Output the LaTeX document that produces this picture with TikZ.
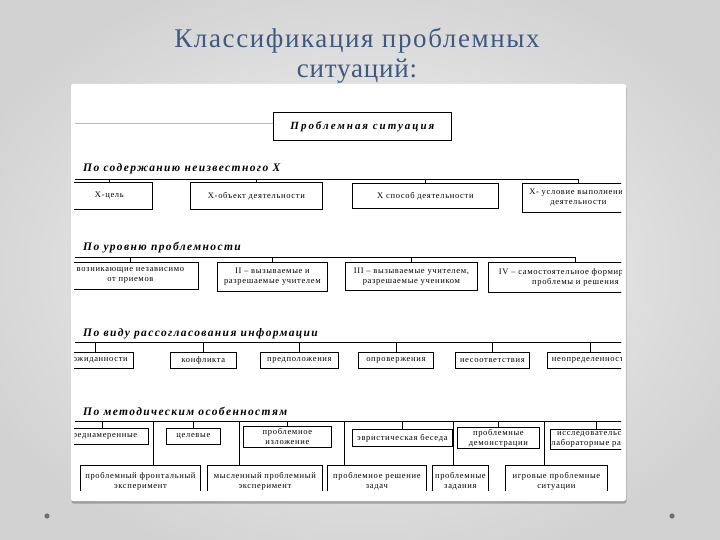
\documentclass[tikz,border=0pt]{standalone}
\usepackage{fontspec}
\setmainfont{Liberation Serif}
\usetikzlibrary{calc}
\definecolor{titleblue}{HTML}{3E5A80}
\definecolor{bgout}{HTML}{D2D2D2}
\definecolor{bgin}{HTML}{F6F6F6}
\definecolor{dotgray}{HTML}{707070}
\tikzset{
  bx/.style={draw=black, line width=0.8pt, align=center, inner sep=1pt, anchor=north west,
    font=\fontsize{8.5}{10}\selectfont\addfontfeature{LetterSpace=8}},
  hd/.style={anchor=base west, inner sep=0pt,
    font=\fontsize{11.5}{12}\selectfont\bfseries\itshape\addfontfeature{LetterSpace=12}},
  ln/.style={line width=0.8pt, draw=black},
  ttl/.style={anchor=base, inner sep=0pt, text=titleblue, font=\fontsize{27}{30}\selectfont\addfontfeature{LetterSpace=6}},
}
\newcommand\bxat[6]{\node[bx, minimum width={#4pt-#2pt}, minimum height={#5pt-#3pt}] (#1) at (#2,#3) {#6};}
\begin{document}
\begin{tikzpicture}[x=1pt,y=-1pt]
\useasboundingbox (0,0) rectangle (720,540);
\shade[inner color=bgin, outer color=bgout] (-60,-40) rectangle (780,580);
% title
\node[ttl] (t1) at (357,48) {Классификация проблемных};
\node[ttl, font=\fontsize{27}{30}\selectfont\addfontfeature{LetterSpace=3}] (t2) at (357,78) {ситуаций:};
% panel
\fill[black, opacity=0.25, rounded corners=2pt] (71.5,86) rectangle (626.5,503.5);
\fill[white, rounded corners=2pt] (71,84) rectangle (626,501);
% dots
\fill[dotgray] (47,516) circle (2.6);
\fill[dotgray] (672,516) circle (2.6);

\begin{scope}
\clip (74,96) rectangle (621,490);
% top box
\node[draw=black, line width=0.8pt, anchor=north west, minimum width=178pt, minimum height=28pt, inner sep=1pt,
  font=\fontsize{11}{12}\selectfont\bfseries\itshape\addfontfeature{LetterSpace=18}] (top) at (273,112) {Проблемная ситуация};
\coordinate (tl) at (75,123);
\draw[line width=0.6pt, draw=gray!55] (tl) -- (tl -| top.west);

% ---------- section 1
\node[hd] (h1) at (83,172) {По содержанию неизвестного X};
\bxat{a1}{66}{182}{152}{209}{X-цель}
\bxat{a2}{190}{182}{322}{209}{X-объект деятельности}
\bxat{a3}{352}{183}{498}{208}{X способ деятельности}
\bxat{a4}{522}{183}{634}{212}{X- условие выполнения\\деятельности}
\coordinate (b1) at (75,179);
\draw[ln] (b1) -- (b1 -| a4.north) -- (a4.north);
\foreach \n in {a1,a2,a3} \draw[ln] (b1 -| \n.north) -- (\n.north);

% ---------- section 2
\node[hd] (h2) at (83,251) {По уровню проблемности};
\bxat{r1}{62}{262}{198}{289}{возникающие независимо\\от приемов}
\bxat{r2}{217}{262}{327}{291}{II – вызываемые и\\разрешаемые учителем}
\bxat{r3}{345}{262}{477}{290}{III – вызываемые учителем,\\разрешаемые учеником}
\bxat{r4}{488}{262}{662}{292}{IV – самостоятельное формирование\\проблемы и решения}
\coordinate (b2) at (75,257);
\draw[ln] (b2) -- (b2 -| r4.north) -- (r4.north);
\foreach \n in {r1,r2,r3} \draw[ln] (b2 -| \n.north) -- (\n.north);

% ---------- section 3
\node[hd] (h3) at (83,336) {По виду рассогласования информации};
\bxat{s1}{57}{352}{133}{368}{неожиданности}
\bxat{s2}{170}{352}{236}{368}{конфликта}
\bxat{s3}{260}{352}{338}{368}{предположения}
\bxat{s4}{358}{352}{433}{368}{опровержения}
\bxat{s5}{455}{352}{529}{368}{несоответствия}
\bxat{s6}{547}{352}{633}{368}{неопределенности}
\coordinate (b3s) at (75,342);
\coordinate (b3e) at (625,342);
\draw[ln] (b3s) -- (b3e);
\foreach \n in {s1,s2,s3,s4,s5,s6} \draw[ln] (b3s -| \n.north) -- (\n.north);

% ---------- section 4
\node[hd] (h4) at (83,415) {По методическим особенностям};
\bxat{u1}{56}{428}{148}{444}{преднамеренные}
\bxat{u2}{166}{428}{220}{444}{целевые}
\bxat{u3}{243}{426}{331}{447}{проблемное\\изложение}
\bxat{u4}{352}{429}{452}{446}{эвристическая беседа}
\bxat{u5}{457}{427}{539}{448}{проблемные\\демонстрации}
\bxat{u6}{550}{429}{640}{449}{исследовательские\\лабораторные работы}
\bxat{c1}{80}{465}{200}{497}{проблемный фронтальный\\эксперимент}
\bxat{c2}{207}{465}{322}{497}{мысленный проблемный\\эксперимент}
\bxat{c3}{327}{465}{426}{497}{проблемное решение\\задач}
\bxat{c4}{432}{465}{488}{497}{проблемные\\задания}
\bxat{c5}{505}{465}{607}{497}{игровые проблемные\\ситуации}
\coordinate (b4s) at (75,421);
\coordinate (b4e) at (625,421);
\draw[ln] (b4s) -- (b4e);
\foreach \n in {u1,u2,u3,u4,u5,u6} \draw[ln] (b4s -| \n.north) -- (\n.north);
\coordinate (v1) at (153,421);
\coordinate (v2) at (239,421);
\coordinate (v3) at (344,421);
\coordinate (v4) at (453,421);
\coordinate (v5) at (544,421);
\draw[ln] (v1) -- (v1 |- c1.north);
\draw[ln] (v2) -- (v2 |- c2.north);
\draw[ln] (v3) -- (v3 |- c3.north);
\draw[ln] (v4) -- (v4 |- c4.north);
\draw[ln] (v5) -- (v5 |- c5.north);
\end{scope}
\end{tikzpicture}
\end{document}
